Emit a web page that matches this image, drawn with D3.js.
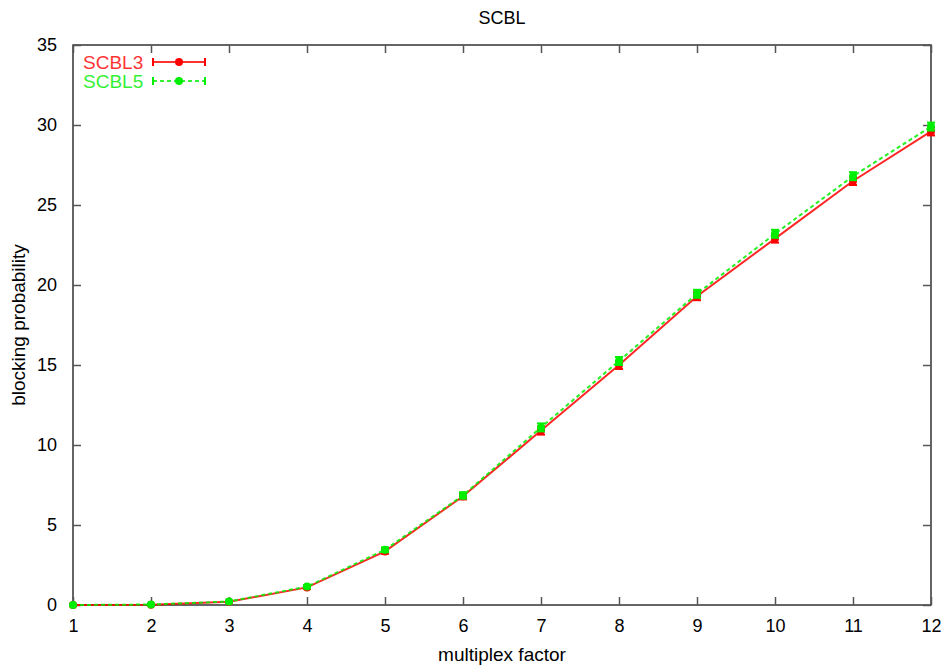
<!DOCTYPE html>
<html><head><meta charset="utf-8">
<script src="https://cdn.jsdelivr.net/npm/d3@7"></script>
<style>
body{margin:0;background:#fff;}
text{font-family:"Liberation Sans",Arial,Helvetica,sans-serif;}
</style></head>
<body>
<svg id="c" width="948" height="670"></svg>
<script>
const xValues = [1,2,3,4,5,6,7,8,9,10,11,12];
const scbl3 = [0,0.02,0.2,1.1,3.35,6.8,10.9,15.0,19.3,22.9,26.5,29.6];
const scbl5 = [0,0.03,0.22,1.15,3.45,6.85,11.1,15.25,19.45,23.2,26.8,29.9];
const err3 = [0,0.02,0.05,0.1,0.15,0.2,0.25,0.25,0.25,0.25,0.25,0.25];
const err5 = [0,0.02,0.05,0.1,0.15,0.2,0.25,0.25,0.25,0.25,0.25,0.25];
const yTicks = [0,5,10,15,20,25,30,35];
const seriesNames = ["SCBL3","SCBL5"];
const colors = ["#ff0000","#00ee00"];

const W=948,H=670, L=73,R=931,T=45,B=605;
const svg=d3.select("#c");
const x=d3.scaleLinear().domain([1,12]).range([L,R]);
const y=d3.scaleLinear().domain([0,35]).range([B,T]);

svg.append("rect").attr("x",L).attr("y",T).attr("width",R-L).attr("height",B-T)
  .attr("fill","none").attr("stroke","#333").attr("stroke-width",1.5);

const xa=svg.append("g").attr("transform",`translate(0,${B})`)
  .call(d3.axisBottom(x).tickValues(xValues).tickSize(-8).tickPadding(14).tickFormat(d3.format("d")));
const xt=svg.append("g").attr("transform",`translate(0,${T})`)
  .call(d3.axisTop(x).tickValues(xValues).tickSize(-8).tickFormat(""));
const ya=svg.append("g").attr("transform",`translate(${L},0)`)
  .call(d3.axisLeft(y).tickValues(yTicks).tickSize(-8).tickPadding(16).tickFormat(d3.format("d")));
const yr=svg.append("g").attr("transform",`translate(${R},0)`)
  .call(d3.axisRight(y).tickValues(yTicks).tickSize(-8).tickFormat(""));
[xa,xt,ya,yr].forEach(g=>{
  g.select(".domain").remove();
  g.selectAll(".tick line").attr("stroke","#555").attr("stroke-width",1.5);
  g.selectAll(".tick text").attr("font-size",18).attr("fill","#000");
});

svg.append("text").attr("x",(L+R)/2).attr("y",24).attr("text-anchor","middle").attr("font-size",18).text("SCBL");
svg.append("text").attr("x",(L+R)/2).attr("y",661).attr("text-anchor","middle").attr("font-size",19).text("multiplex factor");
svg.append("text").attr("transform",`translate(25,${(T+B)/2}) rotate(-90)`).attr("text-anchor","middle").attr("font-size",19).text("blocking probability");

const data=[scbl3,scbl5], errs=[err3,err5];
const line=d3.line().x((d,i)=>x(xValues[i])).y(d=>y(d));
data.forEach((s,k)=>{
  const g=svg.append("g");
  g.append("path").datum(s).attr("d",line).attr("fill","none").attr("stroke",colors[k])
    .attr("stroke-width",2).attr("stroke-dasharray",k===1?"4,3":null).attr("opacity",0.85);
  s.forEach((v,i)=>{
    const cx=x(xValues[i]), e=errs[k][i];
    g.append("line").attr("x1",cx).attr("x2",cx).attr("y1",y(v-e)).attr("y2",y(v+e)).attr("stroke",colors[k]).attr("stroke-width",2);
    [v-e,v+e].forEach(w=>g.append("line").attr("x1",cx-4).attr("x2",cx+4).attr("y1",y(w)).attr("y2",y(w)).attr("stroke",colors[k]).attr("stroke-width",2));
    g.append("circle").attr("cx",cx).attr("cy",y(v)).attr("r",4).attr("fill",colors[k]);
  });
});

seriesNames.forEach((n,k)=>{
  const ly=62+k*19;
  svg.append("text").attr("x",83).attr("y",ly+7).attr("font-size",19).attr("fill",colors[k]).attr("opacity",0.8).text(n);
  svg.append("line").attr("x1",153).attr("x2",205).attr("y1",ly).attr("y2",ly).attr("stroke",colors[k])
    .attr("stroke-width",2).attr("stroke-dasharray",k===1?"4,3":null).attr("opacity",0.8);
  [153,205].forEach(px=>svg.append("line").attr("x1",px).attr("x2",px).attr("y1",ly-4).attr("y2",ly+4).attr("stroke",colors[k]).attr("stroke-width",2));
  svg.append("circle").attr("cx",179).attr("cy",ly).attr("r",4).attr("fill",colors[k]);
});
</script>
</body></html>
